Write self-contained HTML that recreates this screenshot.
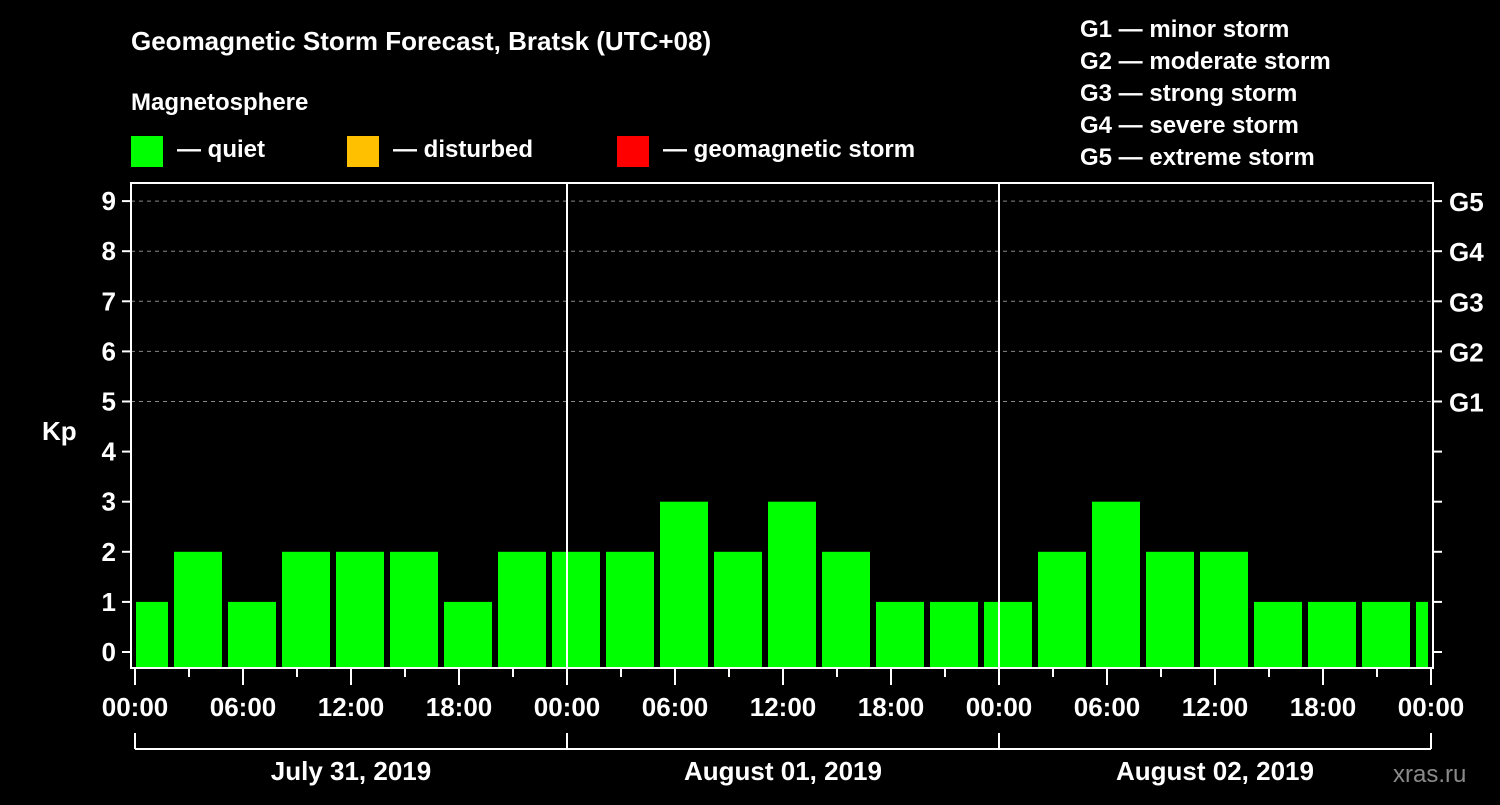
<!DOCTYPE html>
<html><head><meta charset="utf-8"><style>
body{margin:0;background:#000}
svg text{font-family:"Liberation Sans",sans-serif;font-weight:bold;fill:#fff}
</style></head><body>
<svg width="1500" height="800" viewBox="0 0 1500 800">
<rect width="1500" height="800" fill="#000"/>
<text x="131" y="50" font-size="26">Geomagnetic Storm Forecast, Bratsk (UTC+08)</text>
<text x="131" y="110" font-size="24">Magnetosphere</text>
<g><rect x="131" y="136" width="32" height="31" fill="#00ff00"/><text x="177" y="157" font-size="24">— quiet</text></g>
<g><rect x="347" y="136" width="32" height="31" fill="#ffc000"/><text x="393" y="157" font-size="24">— disturbed</text></g>
<g><rect x="617" y="136" width="32" height="31" fill="#ff0000"/><text x="663" y="157" font-size="24">— geomagnetic storm</text></g>
<g font-size="24">
<text x="1080" y="37">G1 — minor storm</text><text x="1080" y="69">G2 — moderate storm</text><text x="1080" y="101">G3 — strong storm</text><text x="1080" y="133">G4 — severe storm</text><text x="1080" y="165">G5 — extreme storm</text></g>
<text x="42" y="440" font-size="26">Kp</text>
<text x="1393" y="782" font-size="24" fill="#888" style="fill:#8a8a8a;font-weight:normal">xras.ru</text>
<g id="grid"></g><g id="bars"></g><g id="axes"></g>
</svg>
<script>
const values=[1,2,1,2,2,2,1,2,2,2,3,2,3,2,1,1,1,2,3,2,2,1,1,1,1];
const dayLabels=["July 31, 2019","August 01, 2019","August 02, 2019"];
const hourLabels=["00:00","06:00","12:00","18:00"];
const gLabels=["G1","G2","G3","G4","G5"];
const NS="http://www.w3.org/2000/svg";
const x0=135,pxH=18,y0=652,pxK=50.1;
const X=h=>x0+h*pxH, Y=k=>y0-k*pxK;
function mk(t,a,p){const e=document.createElementNS(NS,t);for(const k in a)e.setAttribute(k,a[k]);p.appendChild(e);return e;}
const grid=document.getElementById('grid'),bars=document.getElementById('bars'),ax=document.getElementById('axes');
for(let k=5;k<=9;k++){const l=mk('line',{x1:131,x2:1433,y1:Y(k),y2:Y(k),stroke:'#888','stroke-dasharray':'4,4','stroke-width':1},grid);
}
const clip=mk('clipPath',{id:'pc'},mk('defs',{},bars));mk('rect',{x:136,y:183,width:1292,height:485},clip);
const bg=mk('g',{'clip-path':'url(#pc)'},bars);
values.forEach((v,i)=>{const c=X(0.5+3*i);const r=mk('rect',{x:c-24,width:48,y:Y(v),height:668-Y(v),fill:'#00ff00'},bg);
});
const W={stroke:'#fff','stroke-width':2};
mk('rect',{x:131,y:183,width:1302,height:485,fill:'none',stroke:'#fff','stroke-width':2},ax);
[1,2].forEach(d=>mk('line',Object.assign({x1:X(24*d),x2:X(24*d),y1:183,y2:668},W),ax));
for(let k=0;k<=9;k++){mk('line',Object.assign({x1:122,x2:131,y1:Y(k),y2:Y(k)},W),ax);
mk('line',Object.assign({x1:1433,x2:1442,y1:Y(k),y2:Y(k)},W),ax);
const t=mk('text',{x:116,y:Y(k)+9,'font-size':26,'text-anchor':'end'},ax);t.textContent=k;
}
gLabels.forEach((g,i)=>{const t=mk('text',{x:1449,y:Y(5+i)+10,'font-size':26},ax);t.textContent=g;
});
for(let h=0;h<=72;h+=3){const maj=h%6==0;mk('line',Object.assign({x1:X(h),x2:X(h),y1:669,y2:maj?685:677},W),ax);
if(maj){const t=mk('text',{x:X(h),y:716,'font-size':26,'text-anchor':'middle'},ax);t.textContent=hourLabels[(h/6)%4];
}}
mk('line',Object.assign({x1:X(0),x2:X(72),y1:749,y2:749},W),ax);
for(let d=0;d<=3;d++)mk('line',Object.assign({x1:X(24*d),x2:X(24*d),y1:733,y2:749},W),ax);
dayLabels.forEach((s,d)=>{const t=mk('text',{x:X(24*d+12),y:780,'font-size':26,'text-anchor':'middle'},ax);t.textContent=s;
});
</script></body></html>
